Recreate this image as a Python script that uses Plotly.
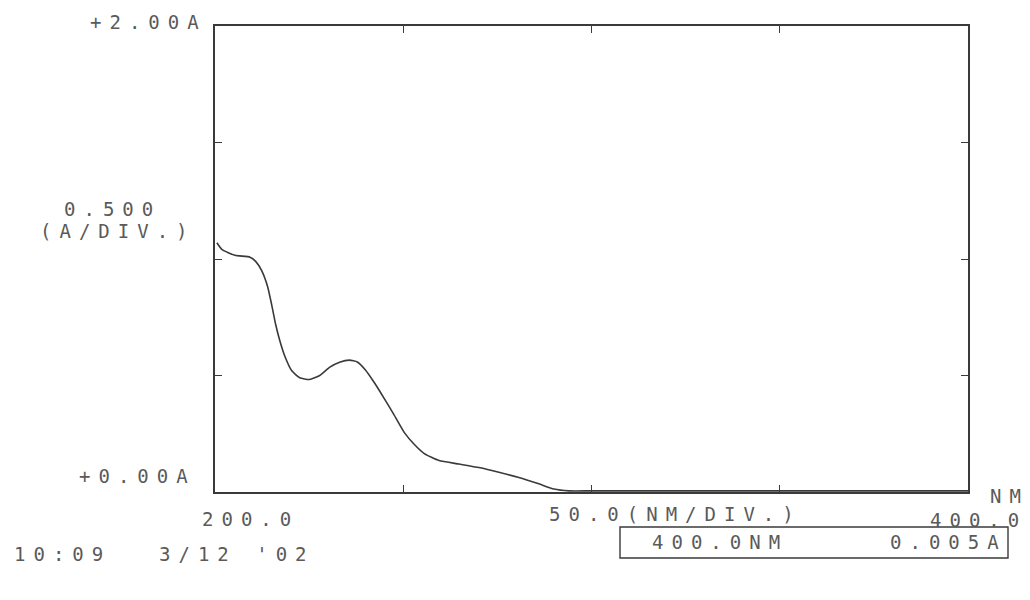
import plotly.graph_objects as go

# ---- data ----
wavelength_nm = [200.5, 201.9, 205.3, 209.3, 210.8, 212.4, 214.0, 215.1, 216.1, 217.2,
                 218.5, 220.4, 222.5, 225.1, 227.8, 230.4, 233.1, 235.7, 237.8, 239.9,
                 242.3, 245.0, 247.6, 250.3, 252.9, 255.6, 259.5, 264.8, 270.1, 275.4,
                 280.7, 286.0, 290.0, 294.0, 300.0, 320.0, 340.0, 360.0, 380.0, 400.0]
absorbance = [1.07, 1.04, 1.016, 1.008, 0.99, 0.95, 0.88, 0.80, 0.72, 0.65,
              0.585, 0.52, 0.49, 0.483, 0.50, 0.535, 0.557, 0.566, 0.558, 0.525,
              0.47, 0.40, 0.33, 0.255, 0.205, 0.165, 0.135, 0.12, 0.105, 0.085,
              0.062, 0.035, 0.013, 0.005, 0.005, 0.005, 0.005, 0.005, 0.005, 0.005]
x_ticks = [250, 300, 350]
y_ticks = [0.5, 1.0, 1.5]

W, H = 1030, 600
L, R, T, B = 215, 968, 26, 492

def px(xp):
    return (xp - L) / (R - L)

def py(yp):
    return (B - yp) / (B - T)

INK = "#3a3a3a"
TXT = "#5a5a5a"
FONT = dict(family="DejaVu Sans Mono", size=19, color=TXT)

def sp(s, ls=8):
    return f'<span style="letter-spacing:{ls}px">{s}</span>'

fig = go.Figure()
fig.add_trace(go.Scatter(x=wavelength_nm, y=absorbance, mode="lines",
                         line=dict(color=INK, width=1.6, shape="spline", smoothing=0.5),
                         hoverinfo="skip", showlegend=False))

axis_common = dict(showline=True, linecolor=INK, linewidth=1.6, mirror="ticks",
                   ticks="inside", ticklen=7, tickwidth=1.3, tickcolor=INK,
                   showgrid=False, zeroline=False, showticklabels=False)
fig.update_xaxes(range=[200, 400], tickvals=x_ticks, **axis_common)
fig.update_yaxes(range=[0, 2.0], tickvals=y_ticks, **axis_common)

labels = [
    ("+2.00A", 88, 22),
    ("0.500", 62, 209),
    ("(A/DIV.)", 38, 231),
    ("+0.00A", 77, 476),
    ("200.0", 200, 519),
    ("10:09", 12, 554),
    ("3/12 '02", 157, 554),
    ("50.0(NM/DIV.)", 547, 514),
    ("NM", 988, 496),
    ("400.0", 928, 520),
    ("400.0NM", 650, 542),
    ("0.005A", 888, 542),
]
for text, x0, y0 in labels:
    fig.add_annotation(text=sp(text), x=px(x0), y=py(y0), xref="paper", yref="paper",
                       xanchor="left", yanchor="middle", showarrow=False, font=FONT)

fig.add_shape(type="rect", xref="paper", yref="paper",
              x0=px(620), x1=px(1008), y0=py(558), y1=py(527),
              line=dict(color=INK, width=1.4))

fig.update_layout(width=W, height=H, paper_bgcolor="white", plot_bgcolor="white",
                  margin=dict(l=L, r=W - R, t=T, b=H - B), showlegend=False)

fig.write_html("out.html")
